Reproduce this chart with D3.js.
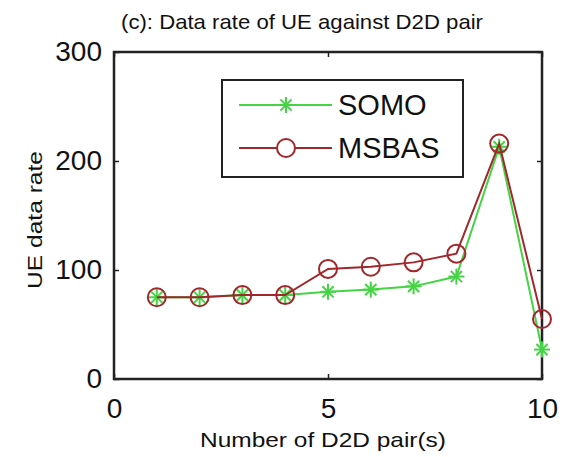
<!DOCTYPE html>
<html><head><meta charset="utf-8">
<script src="https://cdn.jsdelivr.net/npm/d3@7"></script>
<style>body{margin:0;background:#fff}svg{display:block}text{font-family:"Liberation Sans",Arial,sans-serif;fill:#111}</style>
</head><body><svg id="c" width="562" height="457"></svg>
<script>
const xValues = [1,2,3,4,5,6,7,8,9,10];
const somo = [75,75,77,77,80,82,85,94,213,27];
const msbas = [75,75,77,77,101,103,107,115,216,55];
const xTicks = [0,5,10];
const yTicks = [0,100,200,300];
const seriesNames = ["SOMO","MSBAS"];
const title = "(c): Data rate of UE against D2D pair";
const xLabel = "Number of D2D pair(s)";
const yLabel = "UE data rate";

const W=562,H=457, m={l:114,r:20,t:52,b:78};
const svg=d3.select("#c");
svg.append("rect").attr("width",W).attr("height",H).attr("fill","#fff");
const x=d3.scaleLinear().domain([0,10]).range([m.l,W-m.r]);
const y=d3.scaleLinear().domain([0,300]).range([H-m.b,m.t]);

const tick=5;
const gB=svg.append("g").attr("transform",`translate(0,${H-m.b})`)
  .call(d3.axisBottom(x).tickValues(xTicks).tickSize(-tick).tickPadding(14).tickFormat(d3.format("d")));
const gT=svg.append("g").attr("transform",`translate(0,${m.t})`)
  .call(d3.axisTop(x).tickValues(xTicks).tickSize(-tick).tickFormat(""));
const gL=svg.append("g").attr("transform",`translate(${m.l},0)`)
  .call(d3.axisLeft(y).tickValues(yTicks).tickSize(-tick).tickPadding(12).tickFormat(d3.format("d")));
const gR=svg.append("g").attr("transform",`translate(${W-m.r},0)`)
  .call(d3.axisRight(y).tickValues(yTicks).tickSize(-tick).tickFormat(""));
[gB,gT,gL,gR].forEach(g=>{g.select(".domain").remove();g.selectAll("line").attr("stroke","#222").attr("stroke-width",1.5);});
gB.selectAll("text").attr("font-size",28).attr("fill","#222").attr("dy","0.9em");
gL.selectAll("text").attr("font-size",28).attr("fill","#222");
svg.append("rect").attr("x",m.l).attr("y",m.t).attr("width",W-m.l-m.r).attr("height",H-m.t-m.b)
  .attr("fill","none").attr("stroke","#222").attr("stroke-width",2.5);

const colors={SOMO:"#44d444",MSBAS:"#a0282c"};
const line=d3.line().x((d,i)=>x(xValues[i])).y(d=>y(d));
function star(g,cx,cy,s,col){
  const r=s;
  [[r,0],[0,r],[r*0.7,r*0.7],[r*0.7,-r*0.7]].forEach(([dx,dy])=>{
    g.append("line").attr("x1",cx-dx).attr("y1",cy-dy).attr("x2",cx+dx).attr("y2",cy+dy)
     .attr("stroke",col).attr("stroke-width",2);
  });
}
svg.append("path").datum(somo).attr("d",line).attr("fill","none").attr("stroke",colors.SOMO).attr("stroke-width",2);
const gs=svg.append("g");
somo.forEach((v,i)=>star(gs,x(xValues[i]),y(v),8,colors.SOMO));
svg.append("path").datum(msbas).attr("d",line).attr("fill","none").attr("stroke",colors.MSBAS).attr("stroke-width",2);
svg.append("g").selectAll("circle").data(msbas).join("circle")
  .attr("cx",(d,i)=>x(xValues[i])).attr("cy",d=>y(d)).attr("r",9)
  .attr("fill","none").attr("stroke",colors.MSBAS).attr("stroke-width",2);

const lg=svg.append("g");
lg.append("rect").attr("x",222).attr("y",80).attr("width",241).attr("height",97)
  .attr("fill","#fff").attr("stroke","#222").attr("stroke-width",2);
const rows=[105,148];
seriesNames.forEach((n,i)=>{
  const yy=rows[i], col=colors[n];
  lg.append("line").attr("x1",239).attr("x2",332).attr("y1",yy).attr("y2",yy).attr("stroke",col).attr("stroke-width",2);
  if(n==="SOMO") star(lg,286,yy,8,col);
  else lg.append("circle").attr("cx",286).attr("cy",yy).attr("r",9).attr("fill","#fff").attr("stroke",col).attr("stroke-width",2);
  lg.append("text").attr("x",338).attr("y",yy).attr("dy","0.36em").attr("font-size",29).text(n);
});

svg.append("text").attr("x",302).attr("y",29).attr("text-anchor","middle").attr("font-size",21)
  .attr("textLength",362).attr("lengthAdjust","spacingAndGlyphs").text(title);
svg.append("text").attr("x",323).attr("y",447).attr("text-anchor","middle").attr("font-size",21)
  .attr("textLength",246).attr("lengthAdjust","spacingAndGlyphs").text(xLabel);
svg.append("text").attr("transform",`translate(42,${220}) rotate(-90)`).attr("text-anchor","middle").attr("font-size",21)
  .attr("textLength",138).attr("lengthAdjust","spacingAndGlyphs").text(yLabel);
</script></body></html>
